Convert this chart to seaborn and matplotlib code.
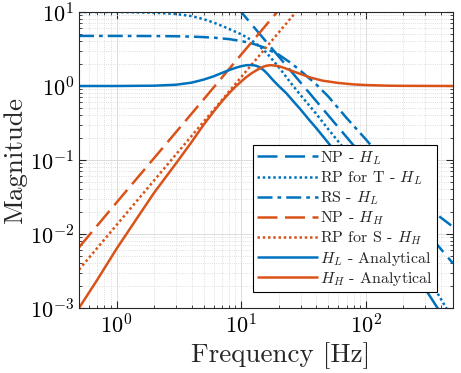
import matplotlib
matplotlib.use("Agg")
import matplotlib.pyplot as plt
import seaborn as sns

# ---- data (frequency in Hz, magnitude) ----
freq_np_l = [9, 10, 15, 20, 30, 50, 100, 200, 500]
mag_np_l = [12.3, 10, 4.44, 2.5, 1.11, 0.4, 0.1, 0.025, 0.004]

freq_rp_t = [0.5, 1, 2, 3, 4, 5, 6, 7, 8, 10, 12, 14, 16, 20, 25, 30, 40, 50, 70, 100, 150, 200, 300, 500]
mag_rp_t = [10, 10, 9.8, 9.4, 8.8, 8.0, 7.2, 6.5, 5.9, 5.0, 4.2, 3.45, 2.8, 1.8, 1.1, 0.75, 0.42, 0.26,
            0.13, 0.06, 0.022, 0.01, 0.003, 0.0007]

freq_rs_l = [0.5, 1, 2, 3, 4, 5, 6, 8, 10, 12, 15, 20, 25, 30, 40, 50, 70, 100, 150, 200, 300, 500]
mag_rs_l = [4.75, 4.75, 4.73, 4.7, 4.65, 4.58, 4.5, 4.3, 4.05, 3.8, 3.35, 2.65, 2.05, 1.6, 1.05, 0.72,
            0.37, 0.19, 0.085, 0.05, 0.024, 0.0125]

freq_np_h = [0.5, 1, 2, 5, 10, 20, 22]
mag_np_h = [0.0066, 0.0266, 0.106, 0.66, 2.66, 10.6, 12.9]

freq_rp_s = [0.5, 1, 2, 5, 10, 20, 30]
mag_rp_s = [0.0033, 0.0132, 0.0529, 0.33, 1.32, 5.29, 11.9]

freq_hl = [0.5, 1, 2, 3, 4, 5, 6, 7, 8, 9, 10, 11, 12, 13, 14, 15, 16, 18, 20, 23, 26, 30, 35, 40,
           50, 60, 70, 80, 100, 150, 200, 300, 400, 500]
mag_hl = [1.0, 1.0, 1.01, 1.04, 1.11, 1.22, 1.35, 1.5, 1.64, 1.76, 1.85, 1.91, 1.92, 1.89, 1.8, 1.66,
          1.5, 1.2, 1.0, 0.8, 0.63, 0.48, 0.35, 0.27, 0.17, 0.115, 0.083, 0.062, 0.036, 0.012,
          0.0056, 0.0018, 0.00085, 0.00047]

freq_hh = [0.5, 0.7, 1, 1.5, 2, 3, 4, 5, 6, 7, 8, 9, 10, 11, 12, 13, 14, 15, 16, 17, 18, 20, 22.5,
           25, 30, 36, 45, 60, 80, 100, 150, 200, 500]
mag_hh = [0.001, 0.0024, 0.0063, 0.0175, 0.036, 0.09, 0.175, 0.3, 0.45, 0.62, 0.8, 0.98, 1.15, 1.32,
          1.47, 1.6, 1.72, 1.82, 1.88, 1.91, 1.9, 1.85, 1.74, 1.62, 1.45, 1.3, 1.18, 1.1, 1.05, 1.03,
          1.01, 1.005, 1.0]

blue = "#0072BD"
orange = "#D95319"

sns.set_style("ticks")
plt.rcParams["font.family"] = ["serif"]
plt.rcParams["font.serif"] = ["cmr10", "DejaVu Serif"]
plt.rcParams["mathtext.fontset"] = "cm"
plt.rcParams["axes.formatter.use_mathtext"] = True
plt.rcParams["axes.unicode_minus"] = False

fig = plt.figure(figsize=(4.61, 3.73), dpi=100)
ax = fig.add_axes([79 / 461, 1 - 308 / 373, (453 - 79) / 461, (308 - 12) / 373])

lw = 1.8
curves = [
    (freq_np_l, mag_np_l, blue, (0, (8, 3)), "NP - $H_L$"),
    (freq_rp_t, mag_rp_t, blue, (0, (1, 1.1)), "RP for T - $H_L$"),
    (freq_rs_l, mag_rs_l, blue, (0, (6, 2, 1.5, 2)), "RS - $H_L$"),
    (freq_np_h, mag_np_h, orange, (0, (8, 3)), "NP - $H_H$"),
    (freq_rp_s, mag_rp_s, orange, (0, (1, 1.1)), "RP for S - $H_H$"),
    (freq_hl, mag_hl, blue, "-", "$H_L$ - Analytical"),
    (freq_hh, mag_hh, orange, "-", "$H_H$ - Analytical"),
]
for f, m, c, ls, lab in curves:
    sns.lineplot(x=f, y=m, ax=ax, color=c, linestyle=ls, linewidth=lw, label=lab,
                 estimator=None, sort=False, dash_capstyle="butt", solid_capstyle="butt")

ax.set_xscale("log")
ax.set_yscale("log")
ax.set_xlim(0.5, 500)
ax.set_ylim(1e-3, 1e1)
ax.grid(True, which="major", color="#dcdcdc", linewidth=0.7)
ax.grid(True, which="minor", color="#d4d4d4", linestyle=":", linewidth=0.6)
ax.set_axisbelow(True)
ax.tick_params(which="both", direction="in", top=True, right=True, labelsize=16, colors="#262626")
ax.tick_params(which="major", length=5)
ax.tick_params(which="minor", length=2.5)
for s in ax.spines.values():
    s.set_color("#262626")
    s.set_linewidth(0.8)
ax.tick_params(labelcolor="black")

ax.set_xlabel("Frequency [Hz]", fontsize=19.5)
ax.set_ylabel("Magnitude", fontsize=19.5, labelpad=2)
ax.xaxis.set_label_coords(0.54, -0.115)

leg = ax.legend(loc="lower right", fontsize=11.5, frameon=True, fancybox=False, framealpha=1,
                edgecolor="black", handlelength=3.8, handletextpad=0.15, labelspacing=0.15,
                borderpad=0.25, borderaxespad=1.0)
leg.get_frame().set_linewidth(0.8)

fig.savefig("out.png", dpi=100)
